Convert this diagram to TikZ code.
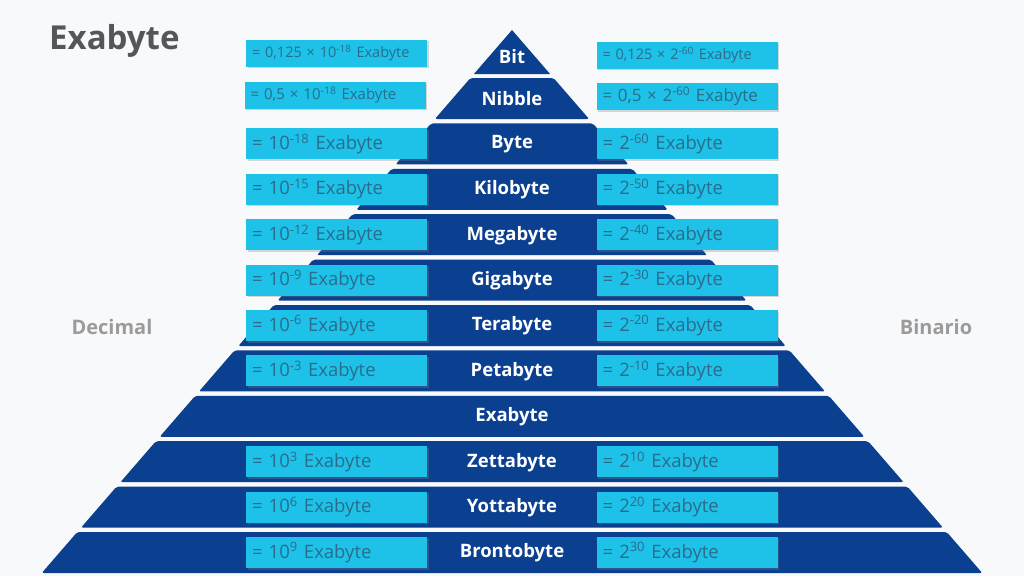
\documentclass[tikz,border=0pt]{standalone}
\usepackage{fontspec}
\setmainfont{Open Sans}
\usetikzlibrary{shadows}
\definecolor{pyrblue}{HTML}{0B3F8F}
\definecolor{boxcyan}{HTML}{1EC2E8}
\definecolor{boxtext}{HTML}{2A6C8C}
\definecolor{bggray}{HTML}{F8F9FA}
\definecolor{titlegray}{HTML}{54575A}
\definecolor{sidegray}{HTML}{9B9B9B}
\begin{document}
\begin{tikzpicture}[x = 1pt, y = -1pt,
        band/.style = {fill = pyrblue},
        bandlabel/.style = {text = white, inner sep = 0pt, font = \bfseries\fontsize{18.5}{18.5}\selectfont},
        valbox/.style = {fill = boxcyan, text = boxtext, inner xsep = 6pt, inner ysep = 0pt,
            text width = 169pt, minimum height = 31pt, align = left,
            drop shadow = {shadow xshift = 1.5pt, shadow yshift = -1.5pt, opacity = 0.3},
            font = \fontsize{18.5}{18.5}\selectfont},
        smallbox/.style = {valbox, minimum height = 27pt, font = \fontsize{14.5}{14.5}\selectfont},
        sidelabel/.style = {text = sidegray, font = \bfseries\fontsize{20}{20}\selectfont}]
        \fill[bggray] (0, 0) rectangle (1024, 576);
        \useasboundingbox (0, 0) rectangle (1024, 576);
        % title and the two sides
        \node[anchor = west, text = titlegray, inner sep = 0pt, font = \bfseries\fontsize{33}{33}\selectfont] (title) at (49, 41) {Exabyte};
        \node[sidelabel] (decimal) at (112, 327) {Decimal};
        \node[sidelabel] (binario) at (936, 327) {Binario};
        % pyramid
        \fill[band] (512, 30) -- (550.1, 74) -- (473.9, 74) -- cycle;
        \node[bandlabel] (Bit) at (512, 57) {Bit};
        \foreach \name [count = \i from 1] in {Nibble, Byte, Kilobyte, Megabyte, Gigabyte, Terabyte, Petabyte, Exabyte, Zettabyte, Yottabyte, Brontobyte}{
            \pgfmathsetmacro{\btop}{78 + 45.4*(\i - 1)}
            \pgfmathsetmacro{\bbot}{\btop + 41}
            \pgfmathsetmacro{\wtop}{0.866*(\btop - 30)}
            \pgfmathsetmacro{\wbot}{0.866*(\bbot - 30)}
            \fill[band, rounded corners = 2pt] (512 - \wtop, \btop) -- (512 + \wtop, \btop) -- (512 + \wbot, \bbot) -- (512 - \wbot, \bbot) -- cycle;
            \node[bandlabel] (\name) at (512, \btop + 21) {\name};
        }
        % values
        \node[smallbox] (bitdec) at (336.5, 53) {= 0,125 × 10\textsuperscript{-18} Exabyte};
        \node[smallbox] (bitbin) at (687, 55) {= 0,125 × 2\textsuperscript{-60} Exabyte};
        \node[smallbox, font = \fontsize{15}{15}\selectfont] (nibdec) at (335, 95) {= 0,5 × 10\textsuperscript{-18} Exabyte};
        \node[smallbox, font = \fontsize{17}{17}\selectfont] (nibbin) at (687, 96.5) {= 0,5 × 2\textsuperscript{-60} Exabyte};
        \foreach \i/\dec/\bin in {2/-18/-60, 3/-15/-50, 4/-12/-40, 5/-9/-30, 6/-6/-20, 7/-3/-10, 9/3/10, 10/6/20, 11/9/30}{
            \pgfmathsetmacro{\ymid}{98.5 + 45.4*(\i - 1)}
            \node[valbox] (dec\i) at (336.5, \ymid) {= 10\textsuperscript{\dec} Exabyte};
            \node[valbox] (bin\i) at (687, \ymid) {= 2\textsuperscript{\bin} Exabyte};
        }
    \end{tikzpicture}
\end{document}
